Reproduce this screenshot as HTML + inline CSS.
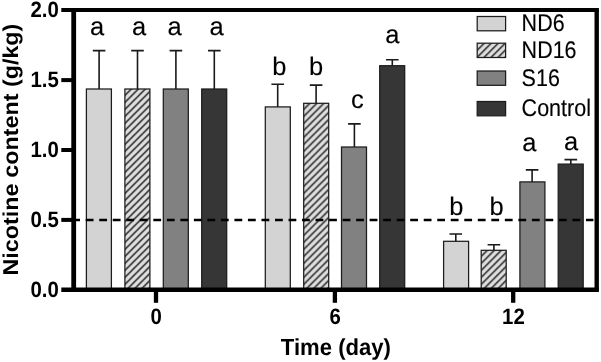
<!DOCTYPE html>
<html><head><meta charset="utf-8"><title>Nicotine content</title>
<style>
html,body{margin:0;padding:0;background:#fff;}
body{width:601px;height:362px;overflow:hidden;}
svg{display:block;will-change:transform;}
text{font-family:"Liberation Sans",Arial,sans-serif;fill:#000;text-rendering:geometricPrecision;}
.b{font-weight:bold;}
.r{stroke:#000;stroke-width:0.12px;}
</style></head><body>
<svg width="601" height="362" viewBox="0 0 601 362">
<defs>
<pattern id="h0" patternUnits="userSpaceOnUse" x="124.90" y="291.45" width="7.0" height="7.0"><rect width="7.0" height="7.0" fill="#dfdfdf"/><path d="M-1,1 L1,-1 M-1,8.0 L8.0,-1 M6.0,8.0 L8.0,6.0" stroke="#141414" stroke-width="1.4"/></pattern>
<pattern id="h1" patternUnits="userSpaceOnUse" x="303.70" y="291.45" width="7.0" height="7.0"><rect width="7.0" height="7.0" fill="#dfdfdf"/><path d="M-1,1 L1,-1 M-1,8.0 L8.0,-1 M6.0,8.0 L8.0,6.0" stroke="#141414" stroke-width="1.4"/></pattern>
<pattern id="h2" patternUnits="userSpaceOnUse" x="481.20" y="291.45" width="7.0" height="7.0"><rect width="7.0" height="7.0" fill="#dfdfdf"/><path d="M-1,1 L1,-1 M-1,8.0 L8.0,-1 M6.0,8.0 L8.0,6.0" stroke="#141414" stroke-width="1.4"/></pattern>
<pattern id="hl" patternUnits="userSpaceOnUse" x="477.20" y="50.30" width="7.0" height="7.0"><rect width="7.0" height="7.0" fill="#dfdfdf"/><path d="M-1,1 L1,-1 M-1,8.0 L8.0,-1 M6.0,8.0 L8.0,6.0" stroke="#141414" stroke-width="1.4"/></pattern>
</defs>
<rect width="601" height="362" fill="#fff"/>
<path d="M99.1,89.0 V50.6 M92.8,50.6 H105.4" stroke="#1a1a1a" stroke-width="1.6" fill="none"/>
<rect x="86.4" y="89.0" width="25" height="200.8" fill="#d3d3d3" stroke="#1c1c1c" stroke-width="1.25"/>
<text class="r" x="97.1" y="35.0" font-size="25.5" text-anchor="middle">a</text>
<path d="M137.5,89.0 V50.6 M131.2,50.6 H143.8" stroke="#1a1a1a" stroke-width="1.6" fill="none"/>
<rect x="124.9" y="89.0" width="25" height="200.8" fill="url(#h0)" stroke="#1c1c1c" stroke-width="1.25"/>
<text class="r" x="139.2" y="35.0" font-size="25.5" text-anchor="middle">a</text>
<path d="M175.9,89.0 V50.6 M169.6,50.6 H182.2" stroke="#1a1a1a" stroke-width="1.6" fill="none"/>
<rect x="163.3" y="89.0" width="25" height="200.8" fill="#818181" stroke="#1c1c1c" stroke-width="1.25"/>
<text class="r" x="174.6" y="35.0" font-size="25.5" text-anchor="middle">a</text>
<path d="M214.3,89.0 V50.6 M208.0,50.6 H220.6" stroke="#1a1a1a" stroke-width="1.6" fill="none"/>
<rect x="201.7" y="89.0" width="25" height="200.8" fill="#363636" stroke="#1c1c1c" stroke-width="1.25"/>
<text class="r" x="216.6" y="35.0" font-size="25.5" text-anchor="middle">a</text>
<path d="M277.7,106.9 V84.2 M271.4,84.2 H284.0" stroke="#1a1a1a" stroke-width="1.6" fill="none"/>
<rect x="265.3" y="106.9" width="25" height="182.8" fill="#d3d3d3" stroke="#1c1c1c" stroke-width="1.25"/>
<text class="r" x="279.3" y="75.3" font-size="25.5" text-anchor="middle">b</text>
<path d="M316.1,103.3 V85.1 M309.8,85.1 H322.4" stroke="#1a1a1a" stroke-width="1.6" fill="none"/>
<rect x="303.7" y="103.3" width="25" height="186.4" fill="url(#h1)" stroke="#1c1c1c" stroke-width="1.25"/>
<text class="r" x="316.2" y="75.3" font-size="25.5" text-anchor="middle">b</text>
<path d="M354.4,147.0 V123.9 M348.1,123.9 H360.7" stroke="#1a1a1a" stroke-width="1.6" fill="none"/>
<rect x="341.5" y="147.0" width="25" height="142.8" fill="#818181" stroke="#1c1c1c" stroke-width="1.25"/>
<text class="r" x="357.3" y="108.3" font-size="25.5" text-anchor="middle">c</text>
<path d="M392.3,65.7 V59.7 M386.0,59.7 H398.6" stroke="#1a1a1a" stroke-width="1.6" fill="none"/>
<rect x="379.7" y="65.7" width="25" height="224.1" fill="#363636" stroke="#1c1c1c" stroke-width="1.25"/>
<text class="r" x="392.3" y="43.4" font-size="25.5" text-anchor="middle">a</text>
<path d="M455.8,241.3 V234.0 M449.5,234.0 H462.1" stroke="#1a1a1a" stroke-width="1.6" fill="none"/>
<rect x="443.6" y="241.3" width="25" height="48.4" fill="#d3d3d3" stroke="#1c1c1c" stroke-width="1.25"/>
<text class="r" x="456.3" y="214.7" font-size="25.5" text-anchor="middle">b</text>
<path d="M493.9,250.3 V244.8 M487.6,244.8 H500.2" stroke="#1a1a1a" stroke-width="1.6" fill="none"/>
<rect x="481.2" y="250.3" width="25" height="39.4" fill="url(#h2)" stroke="#1c1c1c" stroke-width="1.25"/>
<text class="r" x="496.7" y="214.7" font-size="25.5" text-anchor="middle">b</text>
<path d="M532.1,181.9 V169.9 M525.8,169.9 H538.4" stroke="#1a1a1a" stroke-width="1.6" fill="none"/>
<rect x="519.9" y="181.9" width="25" height="107.8" fill="#818181" stroke="#1c1c1c" stroke-width="1.25"/>
<text class="r" x="529.4" y="150.7" font-size="25.5" text-anchor="middle">a</text>
<path d="M570.8,164.1 V159.6 M564.5,159.6 H577.1" stroke="#1a1a1a" stroke-width="1.6" fill="none"/>
<rect x="558.2" y="164.1" width="25" height="125.7" fill="#363636" stroke="#1c1c1c" stroke-width="1.25"/>
<text class="r" x="571.2" y="149.9" font-size="25.5" text-anchor="middle">a</text>
<path d="M72.2,220 H593.4" stroke="#000" stroke-width="2.3" stroke-dasharray="7.8 5.72" fill="none"/>
<path d="M73.7,10.05 V289.75" stroke="#000" stroke-width="4.8" fill="none"/>
<path d="M596.7,10.05 V289.75" stroke="#000" stroke-width="4.4" fill="none"/>
<path d="M61.3,10.05 H598.9" stroke="#000" stroke-width="4.1" fill="none"/>
<path d="M61.3,289.75 H598.9" stroke="#000" stroke-width="4.5" fill="none"/>
<path d="M61.3,219.9 H74" stroke="#000" stroke-width="4.0"/>
<path d="M61.3,150.0 H74" stroke="#000" stroke-width="4.0"/>
<path d="M61.3,80.1 H74" stroke="#000" stroke-width="4.0"/>
<text class="b" transform="translate(58.8,296.9) scale(1,1.09)" font-size="20.4" text-anchor="end">0.0</text>
<text class="b" transform="translate(58.8,227.0) scale(1,1.09)" font-size="20.4" text-anchor="end">0.5</text>
<text class="b" transform="translate(58.8,157.1) scale(1,1.09)" font-size="20.4" text-anchor="end">1.0</text>
<text class="b" transform="translate(58.8,87.2) scale(1,1.09)" font-size="20.4" text-anchor="end">1.5</text>
<text class="b" transform="translate(58.8,17.3) scale(1,1.09)" font-size="20.4" text-anchor="end">2.0</text>
<path d="M156,289.75 V302.8" stroke="#000" stroke-width="4.3"/>
<text class="b" transform="translate(156.2,323.6) scale(1,1.095)" font-size="20.4" text-anchor="middle">0</text>
<path d="M334.9,289.75 V302.8" stroke="#000" stroke-width="4.3"/>
<text class="b" transform="translate(335.1,323.6) scale(1,1.095)" font-size="20.4" text-anchor="middle">6</text>
<path d="M513.2,289.75 V302.8" stroke="#000" stroke-width="4.3"/>
<text class="b" transform="translate(513.4,323.6) scale(1,1.095)" font-size="20.4" text-anchor="middle">12</text>
<text class="b" transform="translate(335.9,354.5) scale(1,1.055)" font-size="22.1" text-anchor="middle">Time (day)</text>
<text class="b" transform="translate(17.8,275.6) rotate(-90)" font-size="21.5" textLength="92" lengthAdjust="spacingAndGlyphs">Nicotine</text>
<text class="b" transform="translate(17.8,177.8) rotate(-90)" font-size="21.5" textLength="84.3" lengthAdjust="spacingAndGlyphs">content</text>
<text class="b" transform="translate(17.8,87.0) rotate(-90)" font-size="21.5" textLength="63.3" lengthAdjust="spacingAndGlyphs">(g/kg)</text>
<rect x="477.2" y="16.5" width="28.4" height="14.3" fill="#d3d3d3" stroke="#1c1c1c" stroke-width="1.25"/>
<text class="r" transform="translate(521.6,30.6) scale(1,1.12)" font-size="21.5">ND6</text>
<rect x="477.2" y="43.2" width="28.4" height="14.3" fill="url(#hl)" stroke="#1c1c1c" stroke-width="1.25"/>
<text class="r" transform="translate(521.6,58.3) scale(1,1.12)" font-size="21.5">ND16</text>
<rect x="477.2" y="71" width="28.4" height="14.3" fill="#818181" stroke="#1c1c1c" stroke-width="1.25"/>
<text class="r" transform="translate(521.6,86.2) scale(1,1.12)" font-size="21.5">S16</text>
<rect x="477.2" y="101.5" width="28.4" height="14.3" fill="#363636" stroke="#1c1c1c" stroke-width="1.25"/>
<text class="r" transform="translate(521.6,115.9) scale(1,1.12)" font-size="21.5">Control</text>
</svg></body></html>
